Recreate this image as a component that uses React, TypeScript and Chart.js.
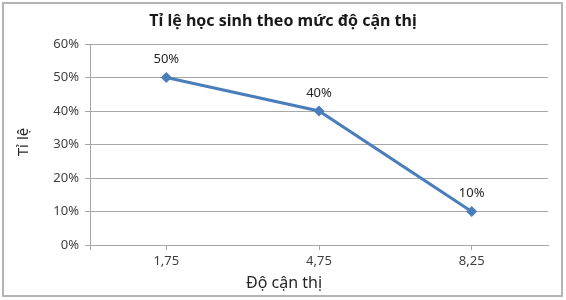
import React, { useEffect, useRef } from "react";
import { Chart, registerables } from "chart.js";

Chart.register(...registerables);

const categories = ["1,75", "4,75", "8,25"];
const values = [50, 40, 10];
const yTicks = [0, 10, 20, 30, 40, 50, 60];
const chartTitle = "Tỉ lệ học sinh theo mức độ cận thị";
const xTitle = "Độ cận thị";
const yTitle = "Tỉ lệ";

const FONT = "'Noto Sans', sans-serif";

const decorPlugin = {
  id: "decor",
  afterDraw(chart: any) {
    const ctx = chart.ctx;
    const area = chart.chartArea;
    ctx.save();
    // outer border
    ctx.strokeStyle = "#b4b4b4";
    ctx.lineWidth = 2;
    ctx.strokeRect(3, 3, 559, 293);
    // y axis extension below zero
    ctx.strokeStyle = "#a6a6a6";
    ctx.lineWidth = 1;
    ctx.beginPath();
    ctx.moveTo(Math.round(area.left) + 0.5, area.bottom);
    ctx.lineTo(Math.round(area.left) + 0.5, area.bottom + 5);
    ctx.stroke();
    // title
    ctx.fillStyle = "#1a1a1a";
    ctx.font = `bold 16px ${FONT}`;
    ctx.textAlign = "center";
    ctx.textBaseline = "middle";
    ctx.fillText(chartTitle, 283, 21);
    // x title
    ctx.font = `16px ${FONT}`;
    ctx.fillStyle = "#262626";
    ctx.fillText(xTitle, 284, 283);
    // y title
    ctx.save();
    ctx.font = `15px ${FONT}`;
    ctx.translate(24, 142);
    ctx.rotate(-Math.PI / 2);
    ctx.fillText(yTitle, 0, 0);
    ctx.restore();
    // data labels
    const meta = chart.getDatasetMeta(0);
    ctx.font = `13px ${FONT}`;
    ctx.fillStyle = "#262626";
    meta.data.forEach((pt: any, i: number) => {
      ctx.fillText(values[i] + "%", pt.x, pt.y - 18);
    });
    ctx.restore();
  },
};

export default function App() {
  const ref = useRef<HTMLCanvasElement>(null);
  useEffect(() => {
    document.body.style.margin = "0";
    const chart = new Chart(ref.current!, {
      type: "line",
      data: {
        labels: categories,
        datasets: [
          {
            data: values,
            borderColor: "#4a7ebb",
            backgroundColor: "#4a7ebb",
            borderWidth: 3,
            pointStyle: "rectRot",
            pointRadius: 5.5,
            pointBorderWidth: 0,
            tension: 0,
          },
        ],
      },
      options: {
        animation: false,
        responsive: false,
        layout: { padding: { left: 0, right: 18, top: 44, bottom: 0 } },
        plugins: { legend: { display: false }, title: { display: false }, tooltip: { enabled: false } },
        scales: {
          x: {
            offset: true,
            afterFit: (s: any) => {
              s.height = 55;
            },
            grid: { offset: false, drawOnChartArea: false, tickLength: 5, color: "#a6a6a6" },
            border: { color: "#a6a6a6", width: 1 },
            ticks: { color: "#404040", font: { family: FONT, size: 13 }, padding: 3 },
          },
          y: {
            min: 0,
            max: 60,
            afterFit: (s: any) => {
              s.width = 90;
            },
            afterBuildTicks: (s: any) => {
              s.ticks = yTicks.map((v) => ({ value: v }));
            },
            grid: { color: "#a6a6a6", tickLength: 5 },
            border: { color: "#a6a6a6", width: 1 },
            ticks: {
              color: "#404040",
              font: { family: FONT, size: 13 },
              padding: 6,
              callback: (v: any) => v + "%",
            },
          },
        },
      },
      plugins: [decorPlugin],
    });
    return () => chart.destroy();
  }, []);
  return (
    <div style={{ width: 566, height: 300 }}>
      <canvas ref={ref} width={566} height={300} />
    </div>
  );
}
